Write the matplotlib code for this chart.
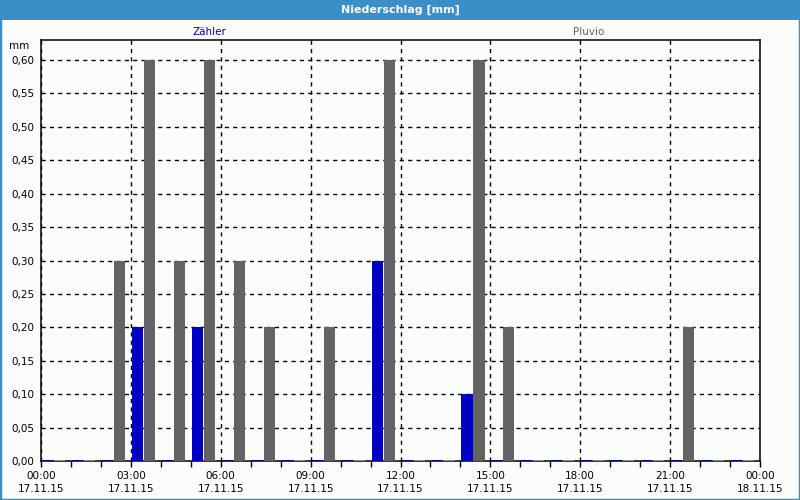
import matplotlib
matplotlib.use('Agg')
import matplotlib.pyplot as plt
from matplotlib.patches import Rectangle
import numpy as np

# stündliche Niederschlagssummen 17.11.15, mm
hours = np.arange(24)
zaehler = [0.0, 0.0, 0.0, 0.20, 0.0, 0.20, 0.0, 0.0, 0.0, 0.0, 0.0, 0.30,
           0.0, 0.0, 0.10, 0.0, 0.0, 0.0, 0.0, 0.0, 0.0, 0.0, 0.0, 0.0]
pluvio = [0.0, 0.0, 0.30, 0.60, 0.30, 0.60, 0.30, 0.20, 0.0, 0.20, 0.0, 0.60,
          0.0, 0.0, 0.60, 0.20, 0.0, 0.0, 0.0, 0.0, 0.0, 0.20, 0.0, 0.0]
xtick_hours = [0, 3, 6, 9, 12, 15, 18, 21, 24]
xtick_labels = ['00:00\n17.11.15', '03:00\n17.11.15', '06:00\n17.11.15',
                '09:00\n17.11.15', '12:00\n17.11.15', '15:00\n17.11.15',
                '18:00\n17.11.15', '21:00\n17.11.15', '00:00\n18.11.15']
yticks = np.arange(0, 0.61, 0.05)

plt.rcParams['font.family'] = ['DejaVu Sans']
plt.rcParams['font.size'] = 7.5

bg = '#fbfdfb'
frame_blue = '#3c8fc6'
fig = plt.figure(figsize=(8, 5), dpi=100, facecolor=bg)

# Fensterrahmen + Titelleiste
fig.patches.append(Rectangle((0, 0), 1, 1, transform=fig.transFigure,
                             facecolor='none', edgecolor=frame_blue, lw=2.5))
fig.patches.append(Rectangle((0, 480 / 500), 1, 20 / 500, transform=fig.transFigure,
                             facecolor=frame_blue, edgecolor='none'))
fig.text(0.5, 490 / 500, 'Niederschlag [mm]', color='white', fontweight='bold',
         ha='center', va='center', fontsize=8)

ax = fig.add_axes([41 / 800, 39 / 500, 719 / 800, 421 / 500])
ax.set_facecolor(bg)

# Nullwerte als kleine Stummel zeichnen (wie im Original)
w = 0.37
stub = 0.002
zh = [max(v, stub) for v in zaehler]
ph = [max(v, stub) for v in pluvio]
zc = ['#0000c0' if v > 0 else '#000080' for v in zaehler]
pc = ['#656266' if v > 0 else '#8c8c8c' for v in pluvio]
ax.bar(hours + 0.22, zh, width=w, color=zc, zorder=3)
ax.bar(hours + 0.62, ph, width=w, color=pc, zorder=3)

ax.set_xlim(0, 24)
ax.set_ylim(0, 0.6 + 20 * 0.6 / 401)
ax.set_xticks(xtick_hours)
ax.set_xticklabels(xtick_labels, linespacing=1.45)
ax.set_xticks(hours, minor=True)
ax.set_yticks(yticks)
ax.set_yticklabels([('%.2f' % v).replace('.', ',') for v in yticks])
ax.tick_params(axis='x', which='both', length=4, width=1, direction='out', pad=3)
ax.tick_params(axis='y', length=0, pad=5)

ax.grid(True, which='major', color='black', linestyle=(0, (3, 3)), lw=1, zorder=1)
for s in ax.spines.values():
    s.set_linewidth(1.1)

ax.text(-0.016, 0.985, 'mm', transform=ax.transAxes, ha='right', va='center')
fig.text(209 / 800, 1 - 32 / 500, 'Zähler', color='#0000c0', ha='center', va='center')
fig.text(589 / 800, 1 - 32 / 500, 'Pluvio', color='#656266', ha='center', va='center')

fig.savefig('out.png', dpi=100, facecolor=bg)
